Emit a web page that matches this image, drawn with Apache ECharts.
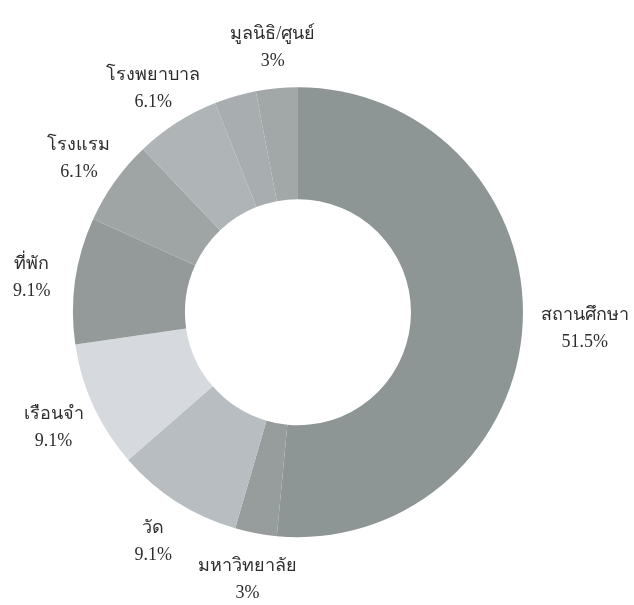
<!DOCTYPE html>
<html>
<head>
<meta charset="utf-8">
<script src="https://cdn.jsdelivr.net/npm/echarts@6/dist/echarts.min.js"></script>
<style>
  html, body { margin: 0; padding: 0; background: #ffffff; }
  #chart { width: 634px; height: 605px; }
</style>
</head>
<body>
<div id="chart"></div>
<script>
// Categories clockwise from 12 o'clock (one thin slice has no label in the original)
const categories = ['สถานศึกษา', 'มหาวิทยาลัย', 'วัด', 'เรือนจำ', 'ที่พัก', 'โรงแรม', 'โรงพยาบาล', '', 'มูลนิธิ/ศูนย์'];
// Percent shares as printed on the chart (unlabelled slice estimated)
const percents = [51.5, 3, 9.1, 9.1, 9.1, 6.1, 6.1, 3, 3];
const colors = ['#8d9595', '#979d9d', '#b7bdc0', '#d6dadf', '#949a9a', '#9fa5a5', '#afb5b6', '#a8aeaf', '#a2a8a8'];

const labelOffsets = { 'สถานศึกษา': [18, 4] };

const chart = echarts.init(document.getElementById('chart'), null, { renderer: 'canvas' });

const sliceData = categories.map((name, i) => ({
  name: name,
  value: percents[i],
  itemStyle: { color: colors[i] }
}));

const labelData = categories.map((name, i) => ({
  name: name,
  value: percents[i],
  label: {
    show: name !== '',
    offset: labelOffsets[name] || [0, 3]
  }
}));

const fontStack = '"Liberation Serif", "DejaVu Serif", serif';

chart.setOption({
  backgroundColor: '#ffffff',
  animation: false,
  series: [
    {
      type: 'pie',
      center: ['47%', '51.6%'],
      radius: [113, 225],
      startAngle: 90,
      clockwise: true,
      silent: true,
      label: { show: false },
      labelLine: { show: false },
      itemStyle: { borderWidth: 0 },
      data: sliceData
    },
    {
      type: 'pie',
      center: ['47%', '51.6%'],
      radius: [258, 274],
      startAngle: 90,
      clockwise: true,
      silent: true,
      itemStyle: { color: 'rgba(0,0,0,0)', borderWidth: 0 },
      labelLine: { show: false },
      label: {
        show: true,
        position: 'inside',
        color: '#2e2e2e',
        fontFamily: fontStack,
        fontSize: 18,
        lineHeight: 27,
        formatter: function (p) {
          if (!p.name) return '';
          return '{n|' + p.name + '}\n{n|' + p.value + '%}';
        },
        rich: {
          n: { align: 'center', fontSize: 18, lineHeight: 27, color: '#2e2e2e', fontFamily: fontStack }
        }
      },
      data: labelData
    }
  ]
});
</script>
</body>
</html>
